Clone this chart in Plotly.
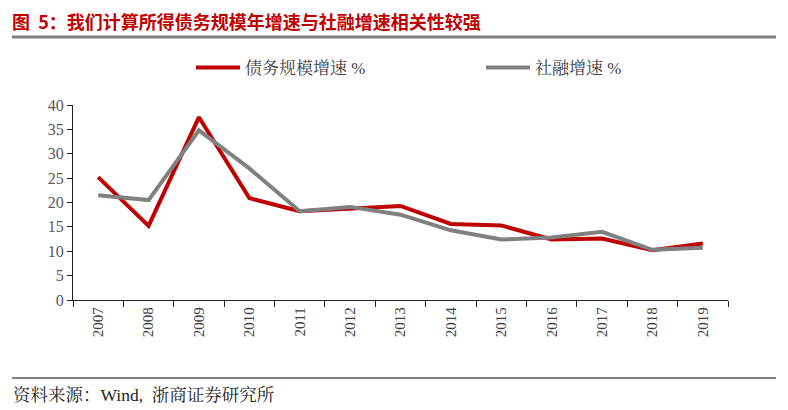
import plotly.graph_objects as go

years = ["2007", "2008", "2009", "2010", "2011", "2012", "2013",
         "2014", "2015", "2016", "2017", "2018", "2019"]
debt_growth = [25.2, 15.2, 37.5, 20.9, 18.2, 18.8, 19.3, 15.6, 15.3, 12.4, 12.6, 10.2, 11.6]
tsf_growth = [21.5, 20.5, 34.8, 27.0, 18.2, 19.1, 17.5, 14.3, 12.4, 12.8, 14.0, 10.3, 10.7]
y_ticks = [0, 5, 10, 15, 20, 25, 30, 35, 40]

title_text = "图  5：我们计算所得债务规模年增速与社融增速相关性较强"
source_text = "资料来源：Wind,  浙商证券研究所"

# page body has an 8px margin; the figure fills the remaining width
OFF = 8
W, H = 788 - 2 * OFF, 410
L, R, T = 73 - OFF, 788 - 728 - OFF, 105 - OFF
B = H - (300 - OFF)
pw, ph = W - L - R, H - T - B

def px(x):
    return (x - OFF - L) / pw

def py(y):
    return (H - B - (y - OFF)) / ph

fig = go.Figure()
fig.add_trace(go.Scatter(x=years, y=debt_growth, mode="lines", name="债务规模增速 %",
                         line=dict(color="#C00000", width=4), legend="legend"))
fig.add_trace(go.Scatter(x=years, y=tsf_growth, mode="lines", name="社融增速 %",
                         line=dict(color="#808080", width=4), legend="legend2"))

serif = "Liberation Serif, Noto Serif CJK SC, Noto Sans CJK SC, serif"
leg_common = dict(orientation="h", yanchor="middle", xanchor="left", itemwidth=44,
                  font=dict(family=serif, size=17, color="#404040"),
                  bgcolor="rgba(0,0,0,0)")

fig.update_layout(
    width=W, height=H,
    margin=dict(l=L, r=R, t=T, b=B),
    paper_bgcolor="white", plot_bgcolor="white",
    title=dict(text=title_text, xref="container", yref="container",
               x=(12 - OFF) / W, y=1 - (23 - OFF) / H, xanchor="left", yanchor="middle",
               font=dict(family="Noto Sans CJK SC", size=18, color="#C00000", weight="bold")),
    showlegend=True,
    legend=dict(x=px(191), y=py(68), **leg_common),
    legend2=dict(x=px(481), y=py(68), **leg_common),
    xaxis=dict(type="category", tickson="boundaries", ticks="outside", ticklen=6,
               tickcolor="#222", showline=True, linecolor="#222", linewidth=1.3,
               showgrid=False, tickangle=-90,
               tickfont=dict(family=serif, size=15, color="#404040"),
               range=[-0.5, 12.5]),
    yaxis=dict(range=[0, 40], tickvals=y_ticks, ticks="outside", ticklen=5,
               tickcolor="#222", showline=True, linecolor="#222", linewidth=1.3,
               showgrid=False, zeroline=False,
               tickfont=dict(family=serif, size=16, color="#595959")),
)

fig.add_shape(type="line", xref="paper", yref="paper", x0=px(12), x1=px(776),
              y0=py(37), y1=py(37), line=dict(color="#808080", width=3))
fig.add_shape(type="line", xref="paper", yref="paper", x0=px(12), x1=px(776),
              y0=py(378), y1=py(378), line=dict(color="#595959", width=1.5))
fig.add_annotation(text=source_text, xref="paper", yref="paper", x=px(11), y=py(395),
                   xanchor="left", yanchor="middle", showarrow=False,
                   font=dict(family=serif, size=17.5, color="#222"))

fig.write_html("out.html")
